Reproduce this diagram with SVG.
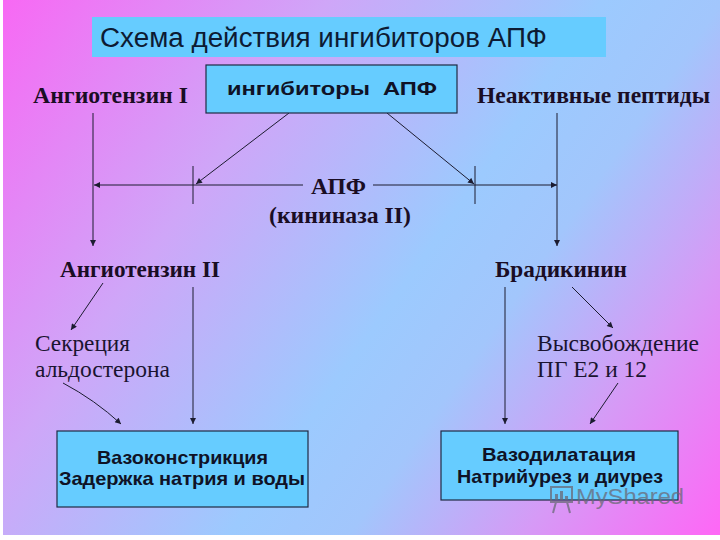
<svg xmlns="http://www.w3.org/2000/svg" width="720" height="540" viewBox="0 0 720 540">
<defs>
<linearGradient id="bg" gradientUnits="userSpaceOnUse" x1="0" y1="0" x2="736" y2="515">
<stop offset="0" stop-color="#f868f4"/>
<stop offset="0.3" stop-color="#cfa6f8"/>
<stop offset="0.55" stop-color="#9ccafe"/>
<stop offset="0.66" stop-color="#a2c6fc"/>
<stop offset="0.82" stop-color="#d69af6"/>
<stop offset="1" stop-color="#ff66f6"/>
</linearGradient>
<marker id="ah" viewBox="0 0 10 10" refX="10" refY="5" markerWidth="7" markerHeight="6" markerUnits="userSpaceOnUse" orient="auto">
<path d="M0,0 L10,5 L0,10 Z" fill="#1c1c30"/>
</marker>
<style>
.box{fill:#66ccff;stroke:#1e2a44;stroke-width:1.2}
.title{font-family:"Liberation Sans",Arial,sans-serif;font-size:27px;fill:#0d1b33}
.sb{font-family:"Liberation Sans",Arial,sans-serif;font-weight:bold;font-size:19px;fill:#0f1226}
.tb{font-family:"Liberation Serif","Times New Roman",serif;font-weight:bold;font-size:24px;fill:#1a0d24}
.tr{font-family:"Liberation Serif","Times New Roman",serif;font-size:24px;fill:#1a1430}
.ln{stroke:#1c1c30;stroke-width:1;fill:none}
.wm{font-family:"Liberation Sans",Arial,sans-serif;font-size:22px;fill:#6a6a78}
</style>
</defs>
<rect x="0" y="0" width="720" height="540" fill="url(#bg)"/>
<rect x="0" y="535" width="720" height="5" fill="#ffffff"/>
<rect x="0" y="0" width="3" height="540" fill="#ffffff"/>

<g id="title">
<rect x="92" y="17" width="514" height="40" fill="#66ccff"/>
<text class="title" x="100" y="47" textLength="447" lengthAdjust="spacingAndGlyphs">Схема действия ингибиторов АПФ</text>
</g>

<g id="connectors">
<line class="ln" x1="93" y1="113" x2="93" y2="246" marker-end="url(#ah)"/>
<line class="ln" x1="557" y1="113" x2="557" y2="246" marker-end="url(#ah)"/>
<line class="ln" x1="303" y1="185" x2="94" y2="185" marker-end="url(#ah)"/>
<line class="ln" x1="373" y1="185" x2="557" y2="185" marker-end="url(#ah)"/>
<line class="ln" x1="193" y1="166" x2="193" y2="204"/>
<line class="ln" x1="475" y1="166" x2="475" y2="204"/>
<line class="ln" x1="289" y1="113" x2="196" y2="184" marker-end="url(#ah)"/>
<line class="ln" x1="387" y1="113" x2="474" y2="184" marker-end="url(#ah)"/>
<line class="ln" x1="103" y1="283" x2="71" y2="330" marker-end="url(#ah)"/>
<line class="ln" x1="193" y1="287" x2="193" y2="424" marker-end="url(#ah)"/>
<path class="ln" d="M63,383 Q95,400 121,424" marker-end="url(#ah)"/>
<line class="ln" x1="505" y1="287" x2="505" y2="424" marker-end="url(#ah)"/>
<line class="ln" x1="572" y1="287" x2="613" y2="328" marker-end="url(#ah)"/>
<line class="ln" x1="618" y1="383" x2="590" y2="424" marker-end="url(#ah)"/>
</g>

<g id="ace-inhibitors">
<rect class="box" x="206" y="65" width="251" height="48"/>
<text class="sb" x="227" y="95" textLength="210" lengthAdjust="spacingAndGlyphs" xml:space="preserve">ингибиторы  АПФ</text>
</g>
<g id="angiotensin1">
<text class="tb" x="33" y="103" textLength="155" lengthAdjust="spacingAndGlyphs">Ангиотензин I</text>
</g>
<g id="inactive-peptides">
<text class="tb" x="477" y="103" textLength="233" lengthAdjust="spacingAndGlyphs">Неактивные пептиды</text>
</g>
<g id="ace">
<text class="tb" x="311" y="194" font-size="26" textLength="55" lengthAdjust="spacingAndGlyphs">АПФ</text>
<text class="tb" x="269" y="223" textLength="142" lengthAdjust="spacingAndGlyphs">(кининаза II)</text>
</g>
<g id="angiotensin2">
<text class="tb" x="60" y="277" textLength="160" lengthAdjust="spacingAndGlyphs">Ангиотензин II</text>
</g>
<g id="bradykinin">
<text class="tb" x="495" y="277" textLength="132" lengthAdjust="spacingAndGlyphs">Брадикинин</text>
</g>
<g id="aldosterone">
<text class="tr" x="35" y="351" textLength="95" lengthAdjust="spacingAndGlyphs">Секреция</text>
<text class="tr" x="35" y="377" textLength="135" lengthAdjust="spacingAndGlyphs">альдостерона</text>
</g>
<g id="pg-release">
<text class="tr" x="537" y="351" textLength="162" lengthAdjust="spacingAndGlyphs">Высвобождение</text>
<text class="tr" x="537" y="377" textLength="110" lengthAdjust="spacingAndGlyphs">ПГ Е2 и 12</text>
</g>
<g id="vasoconstriction">
<rect class="box" x="57" y="431" width="251" height="76"/>
<text class="sb" x="97" y="464" textLength="171" lengthAdjust="spacingAndGlyphs">Вазоконстрикция</text>
<text class="sb" x="59" y="485" textLength="246" lengthAdjust="spacingAndGlyphs">Задержка натрия и воды</text>
</g>
<g id="vasodilation">
<rect class="box" x="441" y="431" width="237" height="69"/>
<text class="sb" x="482" y="461" textLength="154" lengthAdjust="spacingAndGlyphs">Вазодилатация</text>
<text class="sb" x="457" y="483" textLength="206" lengthAdjust="spacingAndGlyphs">Натрийурез и диурез</text>
</g>

<g id="watermark" opacity="0.75">
<rect x="551" y="487" width="21" height="15" fill="none" stroke="#6a6a78" stroke-width="2"/>
<rect x="555" y="494" width="3" height="6" fill="#6a6a78"/>
<rect x="560" y="491" width="3" height="9" fill="#6a6a78"/>
<rect x="565" y="496" width="3" height="4" fill="#6a6a78"/>
<line x1="556" y1="502" x2="553" y2="513" stroke="#6a6a78" stroke-width="2"/>
<line x1="567" y1="502" x2="570" y2="513" stroke="#6a6a78" stroke-width="2"/>
<text class="wm" x="576" y="504" textLength="108" lengthAdjust="spacingAndGlyphs">MyShared</text>
</g>
</svg>
